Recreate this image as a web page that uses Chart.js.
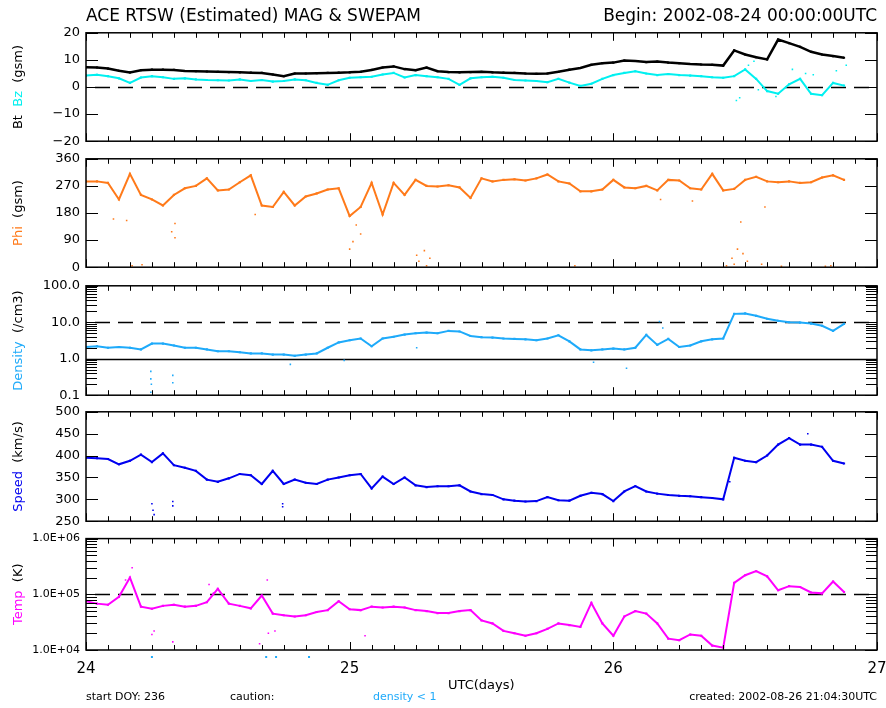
<!DOCTYPE html>
<html lang="en">
<head>
    <meta charset="UTF-8">
    <title>ACE RTSW (Estimated) MAG &amp; SWEPAM</title>
    <script src="https://cdn.jsdelivr.net/npm/chart.js"></script>
    <style>
        body { margin: 0; background: #fff; }
        #wrap { position: relative; width: 886px; height: 708px; background: #fff; overflow: hidden;
                font-family: "DejaVu Sans", sans-serif; color: #000; }
        #wrap canvas { position: absolute; left: 0; }
        .txt { position: absolute; white-space: nowrap; z-index: 2; }
    </style>
</head>
<body>
<div id="wrap">
    <div class="txt" style="left:86px; top:5px; font-size:17px;">ACE RTSW (Estimated) MAG &amp; SWEPAM</div>
    <div class="txt" style="right:9px; top:5px; font-size:17px;">Begin: 2002-08-24 00:00:00UTC</div>
    <div class="txt" style="left:448px; top:677px; font-size:13px;">UTC(days)</div>
    <div class="txt" style="left:86px; top:690px; font-size:11px;">start DOY: 236</div>
    <div class="txt" style="left:230px; top:690px; font-size:11px;">caution:</div>
    <div class="txt" style="left:373px; top:690px; font-size:11px; color:#1eaafa;">density &lt; 1</div>
    <div class="txt" style="right:9px; top:690px; font-size:11px;">created: 2002-08-26 21:04:30UTC</div>
    <canvas id="cMag"></canvas>
    <canvas id="cPhi"></canvas>
    <canvas id="cDen"></canvas>
    <canvas id="cSpd"></canvas>
    <canvas id="cTmp"></canvas>
</div>

<script>
    // Time of each hourly sample, hours after 2002-08-24 00:00 UTC
    const hours = [0, 1, 2, 3, 4, 5, 6, 7, 8, 9, 10, 11, 12, 13, 14, 15, 16, 17, 18, 19,
        20, 21, 22, 23, 24, 25, 26, 27, 28, 29, 30, 31, 32, 33, 34, 35, 36, 37, 38, 39,
        40, 41, 42, 43, 44, 45, 46, 47, 48, 49, 50, 51, 52, 53, 54, 55, 56, 57, 58, 59,
        60, 61, 62, 63, 64, 65, 66, 67, 68, 69];

    // Bt (nT)
    const btVals = [7.3, 7.2, 6.8, 6.0, 5.4, 6.2, 6.4, 6.4, 6.3, 5.9,
        5.8, 5.7, 5.6, 5.5, 5.4, 5.3, 5.2, 4.6, 4.0, 5.0,
        5.0, 5.1, 5.2, 5.3, 5.4, 5.6, 6.3, 7.2, 7.6, 6.6,
        6.2, 7.2, 5.8, 5.5, 5.4, 5.5, 5.6, 5.4, 5.3, 5.2,
        5.0, 4.9, 5.0, 5.6, 6.4, 7.0, 8.2, 8.8, 9.0, 9.8,
        9.6, 9.2, 9.4, 9.0, 8.8, 8.5, 8.3, 8.2, 7.9, 13.5,
        12.0, 11.0, 10.2, 17.5, 16.2, 14.8, 13.0, 12.0, 11.4, 10.8];
    // Bz gsm (nT)
    const bzVals = [4.2, 4.5, 4.0, 3.2, 1.5, 3.5, 4.0, 3.6, 3.0, 3.2,
        2.8, 2.6, 2.5, 2.4, 2.8, 2.2, 2.6, 2.0, 2.2, 2.8,
        2.5, 1.5, 0.8, 2.5, 3.4, 3.6, 3.8, 4.6, 5.2, 3.5,
        4.4, 4.0, 3.6, 3.0, 0.8, 3.2, 3.6, 3.8, 3.4, 2.6,
        2.4, 2.2, 1.8, 3.0, 1.6, 0.4, 1.2, 3.0, 4.4, 5.2,
        5.8, 5.0, 4.4, 4.8, 4.4, 4.2, 4.0, 3.6, 3.4, 4.0,
        6.5, 3.0, -1.5, -2.5, 1.0, 3.0, -2.5, -3.0, 1.5, 0.5];
    const bzSpikeT = [59.2, 59.5, 60.3, 60.8, 61.2, 62.8, 64.3, 65.5, 66.2, 68.3, 69.2];
    const bzSpikeV = [-5, -4, 8, 9.5, -1, -3.5, 6.5, 5, 4.5, 6, 8];

    // Phi gsm (deg)
    const phiVals = [285, 285, 280, 225, 310, 240, 225, 205, 240, 262,
        270, 295, 255, 258, 282, 305, 205, 200, 250, 205,
        235, 245, 258, 262, 170, 200, 280, 175, 280, 240,
        290, 270, 268, 272, 265, 230, 295, 285, 290, 292,
        288, 295, 308, 285, 278, 252, 252, 258, 290, 265,
        262, 270, 255, 290, 288, 262, 258, 310, 255, 260,
        290, 300, 285, 282, 285, 280, 282, 298, 305, 290];
    const phiSpikeT = [2.5, 3.7, 4.2, 5.1, 7.8, 8.1, 8.1, 15.4, 24.0, 24.3, 25.0, 24.6,
        30.1, 30.3, 30.8, 31.3, 31.0, 44.5, 58.3, 58.8, 59.3, 59.8, 60.2, 59.6,
        59.0, 61.5, 63.3, 67.3, 67.8, 61.8, 55.2, 52.3];
    const phiSpikeV = [160, 155, 5, 8, 118, 98, 145, 175, 60, 85, 110, 140,
        40, 20, 55, 30, 5, 5, 5, 30, 60, 45, 20, 150,
        10, 10, 3, 3, 5, 200, 220, 225];

    // Proton density (/cm3)
    const denVals = [2.1, 2.2, 2.0, 2.1, 2.0, 1.8, 2.6, 2.6, 2.3, 2.0,
        2.0, 1.8, 1.6, 1.6, 1.5, 1.4, 1.4, 1.3, 1.3, 1.2,
        1.3, 1.4, 2.0, 2.8, 3.2, 3.6, 2.2, 3.6, 4.0, 4.6,
        5.0, 5.2, 5.0, 5.8, 5.6, 4.2, 3.9, 3.8, 3.6, 3.5,
        3.4, 3.2, 3.6, 4.4, 3.0, 1.8, 1.7, 1.8, 1.9, 1.8,
        2.0, 4.5, 2.4, 3.5, 2.1, 2.3, 3.0, 3.4, 3.6, 17,
        17.5, 15, 12.5, 11, 10, 9.8, 9.2, 8.0, 5.8, 9.0];
    const denSpikeT = [5.9, 5.9, 5.9, 5.95, 7.9, 7.9, 18.6, 23.5, 30.1, 46.2, 49.2, 52.2, 52.5];
    const denSpikeV = [0.45, 0.28, 0.12, 0.2, 0.35, 0.22, 0.7, 0.9, 2.0, 0.8, 0.55, 10.5, 7];
    // hours flagged "density < 1"
    const lowDensityT = [6.0, 16.4, 17.3, 20.3];

    // Bulk speed (km/s)
    const spdVals = [395, 394, 392, 380, 388, 402, 385, 405, 378, 372,
        365, 345, 340, 348, 358, 355, 335, 365, 335, 345,
        338, 335, 345, 350, 355, 358, 325, 352, 335, 350,
        332, 328, 330, 330, 332, 318, 312, 310, 300, 297,
        295, 296, 305, 298, 297, 308, 315, 312, 296, 318,
        330, 318, 313, 310, 308, 307, 305, 303, 300, 395,
        388, 385, 400, 425, 440, 425, 425, 420, 388, 382];
    const spdSpikeT = [6.0, 6.1, 6.2, 7.9, 7.9, 17.9, 17.9, 65.7, 58.6];
    const spdSpikeV = [290, 275, 265, 295, 285, 290, 283, 450, 340];

    // Ion temperature (K)
    const tmpVals = [75000, 68000, 65000, 90000, 200000, 60000, 55000, 62000, 65000, 60000,
        62000, 72000, 125000, 68000, 62000, 56000, 95000, 45000, 42000, 40000,
        42000, 48000, 52000, 75000, 54000, 52000, 60000, 58000, 60000, 58000,
        52000, 50000, 46000, 46000, 50000, 52000, 34000, 30000, 22000, 20000,
        18000, 20000, 24000, 30000, 28000, 26000, 70000, 30000, 18000, 40000,
        50000, 45000, 30000, 16000, 15000, 19000, 18000, 12000, 11000, 160000,
        220000, 260000, 210000, 118000, 140000, 135000, 108000, 104000, 170000, 110000];
    const tmpSpikeT = [4.2, 3.6, 11.2, 11.6, 16.5, 6.2, 6.0, 7.9, 15.8, 16.6, 17.2, 25.4];
    const tmpSpikeV = [300000, 180000, 150000, 105000, 180000, 22000, 19000, 14000, 13000, 20000, 22000, 18000];

    // Axis tick labels
    const dayTicks = [24, 25, 26, 27];
    const bTicks = [-20, -10, 0, 10, 20];
    const phiTicks = [0, 90, 180, 270, 360];
    const denTicks = [0.1, 1, 10, 100];
    const spdTicks = [250, 300, 350, 400, 450, 500];
    const tmpTicks = [1e4, 1e5, 1e6];

    const FONT = '"DejaVu Sans", sans-serif';
    const PAD = 12;
    const COL = { bt: '#000000', bz: '#00f0f0', phi: '#ff7a1a', den: '#1eaafa', spd: '#0000f0', tmp: '#ff00ff' };

    function toPoints(ts, vs) {
        return ts.map((h, i) => ({ x: 24 + h / 24, y: vs[i] }));
    }

    function lineSet(vals, color, width) {
        return {
            data: toPoints(hours, vals), showLine: true, borderColor: color, borderWidth: width,
            pointStyle: 'rect', pointRadius: 1.5, pointBackgroundColor: color, pointBorderWidth: 0
        };
    }

    function dotSet(ts, vs, color) {
        return {
            data: toPoints(ts, vs), showLine: false, pointStyle: 'rect', pointRadius: 1.1,
            pointBackgroundColor: color, pointBorderWidth: 0
        };
    }

    // IDL-like frame: box, inward ticks on all four sides, reference lines, y title
    function framePlugin(cfg) {
        return {
            id: 'idlFrame',
            beforeDatasetsDraw(chart) {
                const ctx = chart.ctx, a = chart.chartArea, y = chart.scales.y;
                ctx.save();
                ctx.strokeStyle = '#000';
                ctx.lineWidth = 1.5;
                (cfg.refLines || []).forEach(r => {
                    const py = Math.round(y.getPixelForValue(r.v)) + 0.5;
                    ctx.setLineDash(r.dash ? [15, 8] : []);
                    ctx.lineDashOffset = r.dash ? -9 : 0;
                    ctx.beginPath();
                    ctx.moveTo(a.left, py);
                    ctx.lineTo(a.right, py);
                    ctx.stroke();
                });
                ctx.restore();
            },
            afterDatasetsDraw(chart) {
                const ctx = chart.ctx, a = chart.chartArea, x = chart.scales.x, y = chart.scales.y;
                ctx.save();
                ctx.strokeStyle = '#000';
                ctx.lineWidth = 1.5;
                ctx.strokeRect(a.left, a.top, a.right - a.left, a.bottom - a.top);
                ctx.lineWidth = 1;
                ctx.beginPath();
                // time ticks every 2 hours, longer at day boundaries
                for (let k = 0; k <= 36; k++) {
                    const px = Math.round(x.getPixelForValue(24 + k / 12)) + 0.5;
                    const len = (k % 12 === 0) ? 8 : 5;
                    ctx.moveTo(px, a.bottom); ctx.lineTo(px, a.bottom - len);
                    ctx.moveTo(px, a.top); ctx.lineTo(px, a.top + len);
                }
                // y ticks
                const yTick = (v, len) => {
                    const py = Math.round(y.getPixelForValue(v)) + 0.5;
                    ctx.moveTo(a.left, py); ctx.lineTo(a.left + len, py);
                    ctx.moveTo(a.right, py); ctx.lineTo(a.right - len, py);
                };
                cfg.ticks.forEach(v => yTick(v, 12));
                if (cfg.log) {
                    for (let d = 0; d < cfg.ticks.length - 1; d++) {
                        for (let m = 2; m <= 9; m++) yTick(cfg.ticks[d] * m, 11);
                    }
                }
                ctx.stroke();

                if (cfg.lowDensity) {
                    ctx.fillStyle = COL.den;
                    cfg.lowDensity.forEach(h => {
                        const px = x.getPixelForValue(24 + h / 24);
                        ctx.fillRect(px - 1, a.bottom + 6, 2, 2);
                    });
                }

                // rotated, multi-coloured y title
                ctx.font = '13px ' + FONT;
                ctx.textBaseline = 'middle';
                ctx.textAlign = 'left';
                const gap = ctx.measureText('  ').width;
                const total = cfg.title.reduce((s, p) => s + ctx.measureText(p[0]).width, 0) + gap * (cfg.title.length - 1);
                ctx.translate(19, (a.top + a.bottom) / 2);
                ctx.rotate(-Math.PI / 2);
                let tx = -total / 2;
                cfg.title.forEach(p => {
                    ctx.fillStyle = p[1];
                    ctx.fillText(p[0], tx, 0);
                    tx += ctx.measureText(p[0]).width + gap;
                });
                ctx.restore();
            }
        };
    }

    function makePanel(id, top, bottom, cfg) {
        const cv = document.getElementById(id);
        const below = cfg.showX ? 34 : PAD;
        const h = bottom - top + PAD + below;
        cv.width = 886;
        cv.height = h;
        cv.style.top = (top - PAD) + 'px';

        return new Chart(cv, {
            type: 'scatter',
            data: { datasets: cfg.datasets },
            options: {
                responsive: false,
                animation: false,
                events: [],
                layout: { padding: { left: 0, right: 9, top: PAD, bottom: cfg.showX ? 0 : PAD } },
                plugins: { legend: { display: false }, tooltip: { enabled: false } },
                scales: {
                    x: {
                        type: 'linear', min: 24, max: 27, display: !!cfg.showX,
                        grid: { display: false, drawTicks: false }, border: { display: false },
                        afterBuildTicks: s => { s.ticks = dayTicks.map(v => ({ value: v })); },
                        afterFit: s => {
                            s.height = cfg.showX ? 34 : 0;
                            s.paddingLeft = 0;
                            s.paddingRight = 0;
                        },
                        ticks: { color: '#000', font: { family: FONT, size: 15 }, padding: 10,
                                 maxRotation: 0, autoSkip: false, callback: v => String(v) }
                    },
                    y: {
                        type: cfg.log ? 'logarithmic' : 'linear',
                        min: cfg.ticks[0], max: cfg.ticks[cfg.ticks.length - 1],
                        grid: { display: false, drawTicks: false }, border: { display: false },
                        afterFit: s => { s.width = 86; },
                        afterBuildTicks: s => { s.ticks = cfg.ticks.map(v => ({ value: v })); },
                        ticks: { color: '#000', font: { family: FONT, size: cfg.fontSize || 13 },
                                 padding: 6, autoSkip: false, callback: cfg.fmt }
                    }
                }
            },
            plugins: [framePlugin(cfg)]
        });
    }

    const signed = v => (v < 0 ? '\u2212' + Math.abs(v) : String(v));

    makePanel('cMag', 31, 143, {
        ticks: bTicks, fmt: signed,
        refLines: [{ v: 0, dash: true }],
        title: [['Bt', COL.bt], ['Bz', COL.bz], ['(gsm)', '#000']],
        datasets: [lineSet(btVals, COL.bt, 2.5), lineSet(bzVals, COL.bz, 2),
                   dotSet(bzSpikeT, bzSpikeV, COL.bz)]
    });

    makePanel('cPhi', 157, 269, {
        ticks: phiTicks, fmt: v => String(v),
        title: [['Phi', COL.phi], ['(gsm)', '#000']],
        datasets: [lineSet(phiVals, COL.phi, 2), dotSet(phiSpikeT, phiSpikeV, COL.phi)]
    });

    makePanel('cDen', 284, 397, {
        ticks: denTicks, log: true, fmt: v => Number(v).toFixed(1),
        refLines: [{ v: 10, dash: true }, { v: 1, dash: false }],
        title: [['Density', COL.den], ['(/cm3)', '#000']],
        datasets: [lineSet(denVals, COL.den, 2), dotSet(denSpikeT, denSpikeV, COL.den)]
    });

    makePanel('cSpd', 410, 523, {
        ticks: spdTicks, fmt: v => String(v),
        title: [['Speed', COL.spd], ['(km/s)', '#000']],
        datasets: [lineSet(spdVals, COL.spd, 2), dotSet(spdSpikeT, spdSpikeV, COL.spd)]
    });

    makePanel('cTmp', 538, 650, {
        ticks: tmpTicks, log: true, fontSize: 11, showX: true,
        fmt: v => '1.0E+0' + Math.round(Math.log10(v)),
        refLines: [{ v: 1e5, dash: true }],
        lowDensity: lowDensityT,
        title: [['Temp', COL.tmp], ['(K)', '#000']],
        datasets: [lineSet(tmpVals, COL.tmp, 2), dotSet(tmpSpikeT, tmpSpikeV, COL.tmp)]
    });
</script>
</body>
</html>
